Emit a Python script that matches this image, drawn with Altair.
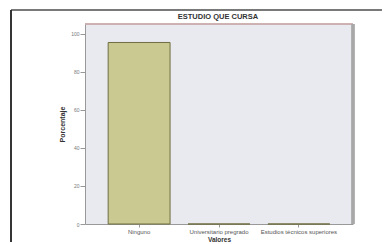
import altair as alt
import pandas as pd

categories = ["Ninguno", "Universitario pregrado", "Estudios técnicos superiores"]
percent = [95.3, 0.0, 0.0]
y_ticks = [0, 20, 40, 60, 80, 100]
title_text = "ESTUDIO QUE CURSA"

df = pd.DataFrame({"Estudio": categories, "Porcentaje": percent})

W, H = 268, 200

xenc = alt.X(
    "Estudio:N",
    sort=categories,
    scale=alt.Scale(paddingInner=0.225, paddingOuter=0.29),
    axis=alt.Axis(
        title="Valores", labelAngle=0, labelFontSize=6, labelColor="#555",
        tickSize=3, tickColor="#999", domainColor="#999", labelPadding=1,
        titleFontSize=6.5, titleFontWeight="bold", titlePadding=2, titleColor="#333",
    ),
)
yenc = alt.Y(
    "Porcentaje:Q",
    scale=alt.Scale(domain=[0, 105], nice=False),
    axis=alt.Axis(
        title="Porcentaje", values=y_ticks, labelFontSize=5, labelColor="#777",
        tickSize=5, tickColor="#999", domainColor="#999", labelPadding=1,
        titleFontSize=7, titleFontWeight="bold", titlePadding=5, titleColor="#333",
        grid=False,
    ),
)

bars = alt.Chart(df).mark_bar(
    fill="#c9c991", stroke="#6e6e40", strokeWidth=1
).encode(x=xenc, y=yenc)

top_line = alt.Chart(df).mark_rule(color="#c8a8a8", strokeWidth=1).encode(
    x=alt.value(0), x2=alt.value(W), y=alt.value(0)
)
right_edge = alt.Chart(df).mark_rule(color="#a8a8a8", strokeWidth=3).encode(
    x=alt.value(W), y=alt.value(0), y2=alt.value(H)
)
frame_top = alt.Chart(df).mark_rule(color="#777", strokeWidth=1.5).encode(
    x=alt.value(-74), x2=alt.value(310), y=alt.value(-14)
)
frame_left = alt.Chart(df).mark_rule(color="#333", strokeWidth=1.5).encode(
    x=alt.value(-74), y=alt.value(-14), y2=alt.value(230)
)
title = alt.Chart(pd.DataFrame({"t": [title_text]})).mark_text(
    fontSize=7.5, fontWeight="bold", color="#333", align="center", baseline="middle"
).encode(x=alt.value(W / 2 - 1), y=alt.value(-7), text="t:N")

chart = alt.layer(bars, top_line, right_edge, frame_top, frame_left, title).properties(
    width=W, height=H,
    autosize=alt.AutoSizeParams(type="none"),
    padding={"left": 77, "top": 16, "right": 29, "bottom": 18},
    background="white",
).configure_view(fill="#e9eaf0", stroke=None)

chart.save("out.html", embed_options={"renderer": "svg", "actions": False})
